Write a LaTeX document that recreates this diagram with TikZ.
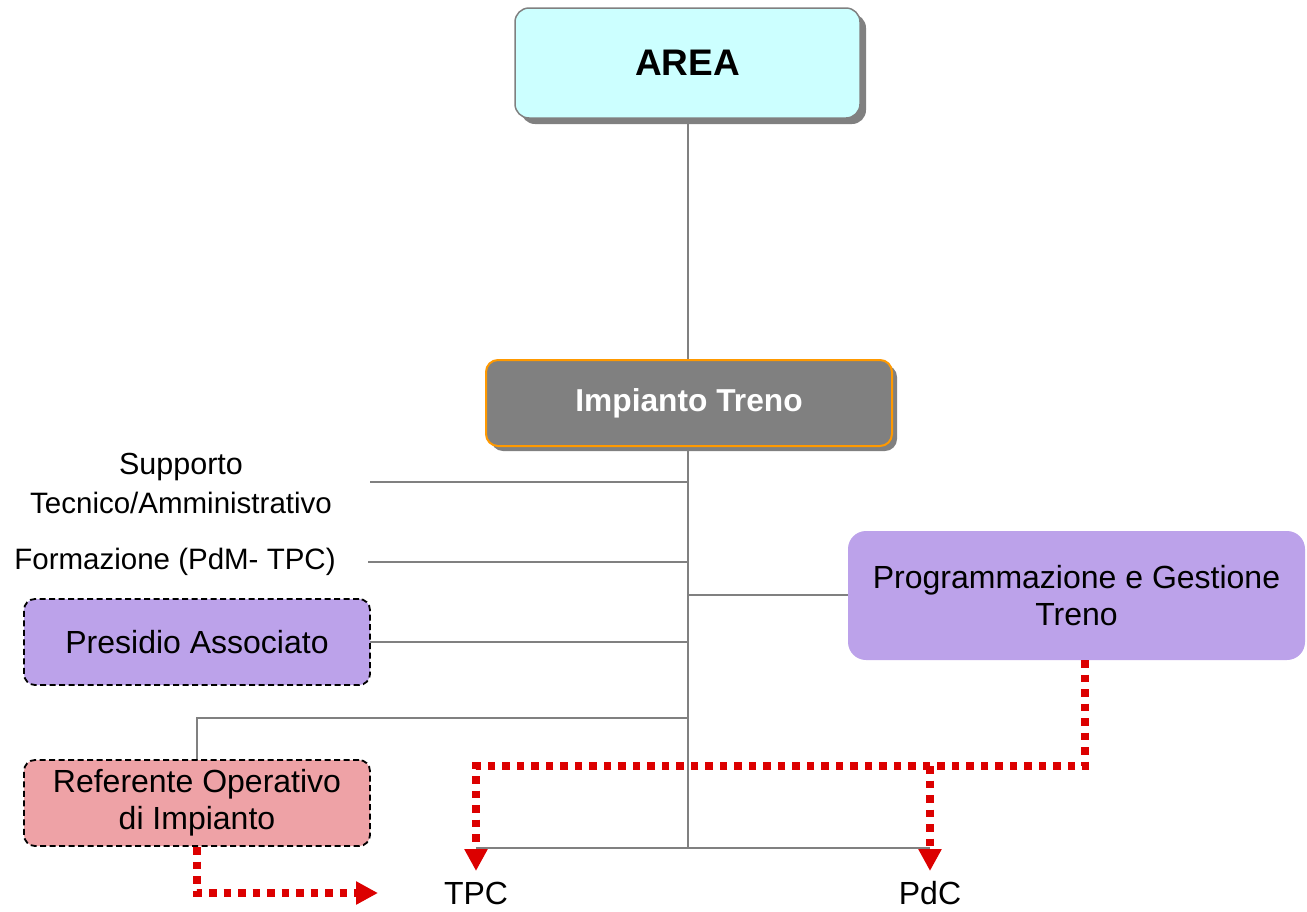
\documentclass[tikz,border=0pt]{standalone}
\usepackage{fontspec}
\setmainfont{Liberation Sans}
\usetikzlibrary{arrows.meta,shadows}
\definecolor{areafill}{RGB}{204,255,255}
\definecolor{linegray}{RGB}{128,128,128}
\definecolor{impfill}{RGB}{128,128,128}
\definecolor{orangeb}{RGB}{255,153,0}
\definecolor{purplefill}{RGB}{188,162,234}
\definecolor{pinkfill}{RGB}{238,162,166}
\definecolor{dotred}{RGB}{220,0,0}
\tikzset{
  conn/.style={draw=linegray, line width=2},
  reddot/.style={draw=dotred, line width=8, dash pattern=on 7.5 off 7, -{Triangle[width=22,length=22]}},
  bigtxt/.style={font=\fontsize{32}{37}\selectfont, align=center},
  smalltxt/.style={font=\fontsize{29.5}{36}\selectfont, align=center},
  areabox/.style={draw=linegray, line width=1.5, fill=areafill, rounded corners=14,
    minimum width=345, minimum height=110, inner sep=0,
    drop shadow={shadow xshift=6pt, shadow yshift=-6pt, fill=linegray, opacity=1},
    font=\bfseries\fontsize{37}{40}\selectfont},
  impbox/.style={draw=orangeb, line width=2, fill=impfill, rounded corners=12,
    minimum width=406, minimum height=86, inner sep=0, text=white,
    drop shadow={shadow xshift=5pt, shadow yshift=-5pt, fill=linegray, opacity=1},
    font=\bfseries\fontsize{31.7}{36}\selectfont},
  progbox/.style={fill=purplefill, rounded corners=18, minimum width=457, minimum height=129,
    inner sep=0, bigtxt},
  dashbox/.style={draw=black, line width=1.8, dash pattern=on 6 off 3.5, rounded corners=11,
    minimum width=346, minimum height=86, inner sep=0, bigtxt},
}
\begin{document}
\begin{tikzpicture}[x=1pt,y=-1pt]
\useasboundingbox (0,0) rectangle (1307,911);
% coordinates
\coordinate (bot) at (688,848);
\coordinate (supL) at (370,482);
\coordinate (supR) at (688,482);
\coordinate (forL) at (368,562);
\coordinate (forR) at (688,562);
\coordinate (progL) at (688,595);
\coordinate (presR) at (688,642);
\coordinate (refR) at (688,718);
\coordinate (refK) at (197,718);
\coordinate (botL) at (476,848);
\coordinate (botR) at (930,848);
% gray connectors
\draw[conn] (688,118) coordinate (areaS) -- (bot);
\draw[conn] (supL) -- (supR);
\draw[conn] (forL) -- (forR);
\draw[conn] (progL) -- (848,595) coordinate (progW);
\draw[conn] (370,642) coordinate (presE) -- (presR);
\draw[conn] (refR) -- (refK) -- (197,760) coordinate (refN);
\draw[conn] (botL) -- (botR);
% boxes
\node[areabox] (area) at (687.5,63) {AREA};
\node[impbox] (imp) at (689,403) {Impianto Treno};
\node[progbox] (prog) at (1076.5,595.5) {Programmazione e Gestione\\Treno};
\node[dashbox, fill=purplefill] (pres) at (197,642) {Presidio Associato};
\node[dashbox, fill=pinkfill] (ref) at (197,803) {Referente Operativo\\di Impianto};
% texts
\node[smalltxt, font=\fontsize{30.5}{36}\selectfont] (sup1) at (181,467) {Supporto};
\node[smalltxt] (sup2) at (181,503) {Tecnico/Amministrativo};
\node[smalltxt] (form) at (175,562) {Formazione (PdM- TPC)};
\node[bigtxt] (tpc) at (476,893) {TPC};
\node[bigtxt] (pdc) at (930,893) {PdC};
% red dotted connectors
\coordinate (pd) at (1085,660);
\coordinate (pk) at (1085,766);
\coordinate (tk) at (476,766);
\coordinate (ta) at (476,871);
\coordinate (ck) at (930,766);
\coordinate (ca) at (930,871);
\draw[reddot] (pd) -- (pk) -- (tk) -- (ta);
\draw[reddot] (ck) -- (ca);
\coordinate (rs) at (197,847);
\coordinate (rk) at (197,893);
\coordinate (ra) at (378,893);
\draw[reddot] (rs) -- (rk) -- (ra);
\end{tikzpicture}
\end{document}
